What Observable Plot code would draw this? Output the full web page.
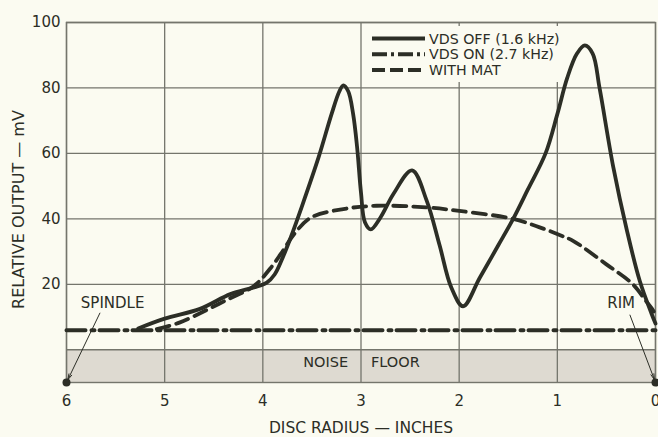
<!DOCTYPE html>
<html><head><meta charset="utf-8">
<script src="https://cdn.jsdelivr.net/npm/d3@7"></script>
<script src="https://cdn.jsdelivr.net/npm/@observablehq/plot@0.6"></script>
<style>
body{margin:0;background:#fbfbf1;}
#chart svg{display:block;}
</style></head><body><div id="chart"></div>
<script>
// ---- data (disc radius in inches, relative output in mV) ----
const vdsOffRadius = [5.27, 5.0, 4.64, 4.33, 4.1, 3.96, 3.88, 3.8, 3.72, 3.6, 3.43, 3.3, 3.22, 3.18, 3.13, 3.08, 3.04, 3.0, 2.96, 2.9, 2.8, 2.67, 2.48, 2.33, 2.2, 2.08, 1.96, 1.79, 1.6, 1.45, 1.3, 1.12, 1.0, 0.9, 0.8, 0.72, 0.64, 0.57, 0.43, 0.29, 0.16, 0.04, 0.0];
const vdsOffOutput = [6.5, 9.5, 12.5, 17, 19, 20.5, 23, 28, 34, 44, 59, 72, 79, 80.8, 79, 72, 62, 48, 39, 36.8, 40.5, 47.6, 54.8, 45.5, 32, 19, 13.3, 22, 32, 40, 49, 60, 72, 83, 90.5, 93, 90.5, 80, 55.8, 36.3, 21, 11, 8];

const vdsOnRadius = [6, 0];
const vdsOnOutput = [6, 6];

const matRadius = [5.08, 4.85, 4.57, 4.35, 4.09, 3.92, 3.79, 3.69, 3.51, 3.18, 2.84, 2.33, 2.02, 1.45, 1.18, 0.97, 0.84, 0.5, 0.23, 0.1, 0.02, 0.0];
const matOutput = [6.3, 8.3, 12.2, 15.5, 19.5, 25, 30.5, 35, 40.4, 43, 44, 43.5, 42.5, 40, 37.4, 35, 33.3, 26.1, 20, 15, 11.8, 10];

const noiseFloor = [{x1: 6, x2: 0, y1: -10, y2: 0}];
const noiseLabels = [{x: 3.36, y: -3.9, text: "NOISE"}, {x: 2.65, y: -3.9, text: "FLOOR"}];

const xTicks = [6, 5, 4, 3, 2, 1, 0];
const yTicks = [20, 40, 60, 80, 100];
const yGrid = [0, 20, 40, 60, 80, 100];

const endLabels = [{x: 5.53, y: 14.3, text: "SPINDLE"}, {x: 0.35, y: 14.3, text: "RIM"}];
const endArrows = [{x1: 5.66, y1: 11.2, x2: 6, y2: -10}, {x1: 0.26, y1: 10.6, x2: 0, y2: -10}];
const endDots = [{x: 6, y: -10}, {x: 0, y: -10}];

const legendNames = ["VDS OFF (1.6 kHz)", "VDS ON (2.7 kHz)", "WITH MAT"];
const legendDash = [null, "15,4,3,4", "13,5"];

const xLabel = "DISC RADIUS — INCHES";
const yLabel = "RELATIVE OUTPUT — mV";

// ---- styling ----
const BG = "#fbfbf1", INK = "#2c2e26", GRID = "#74756c", FILL = "#dedad1";
const FONT = "'DejaVu Sans', sans-serif";

const toPts = (xs, ys) => xs.map((x, i) => ({x, y: ys[i]}));

function legendMark(index, scales, values, dims) {
  const g = d3.create("svg:g");
  const x0 = scales.x(3) + 3.5;
  const top = dims.marginTop;
  g.append("rect").attr("x", x0).attr("y", top + 4).attr("width", 194).attr("height", 56).attr("fill", BG);
  legendNames.forEach((name, i) => {
    const y = top + 16.5 + i * 15.8;
    const ln = g.append("line")
      .attr("x1", x0 + 8).attr("x2", x0 + 61).attr("y1", y).attr("y2", y)
      .attr("stroke", INK).attr("stroke-width", 4);
    if (legendDash[i]) ln.attr("stroke-dasharray", legendDash[i]);
    g.append("text").attr("x", x0 + 65).attr("y", y).attr("dy", "0.36em")
      .attr("text-anchor", "start")
      .attr("fill", INK).attr("font-family", FONT).attr("font-size", 14.2)
      .text(name);
  });
  return g.node();
}

const chart = Plot.plot({
  width: 658,
  height: 437,
  marginLeft: 66,
  marginRight: 3,
  marginTop: 22,
  marginBottom: 55,
  style: {background: BG, fontFamily: FONT, color: INK},
  x: {domain: [6, 0], ticks: xTicks},
  y: {domain: [-10, 100], ticks: yTicks},
  marks: [
    Plot.rect(noiseFloor, {x1: "x1", x2: "x2", y1: "y1", y2: "y2", fill: FILL}),
    Plot.ruleX(xTicks, {stroke: GRID, strokeWidth: 1.3}),
    Plot.ruleY(yGrid, {stroke: GRID, strokeWidth: 1.3}),
    Plot.frame({stroke: GRID, strokeWidth: 1.4}),
    Plot.axisX({ticks: xTicks, tickSize: 0, tickPadding: 13, fontSize: 15, label: null, tickFormat: d => String(d)}),
    Plot.axisY({ticks: yTicks, tickSize: 0, tickPadding: 6, fontSize: 15, label: null}),
    Plot.text([xLabel], {frameAnchor: "bottom", lineAnchor: "middle", textAnchor: "middle", dy: 46, fontSize: 15.5, fill: INK}),
    Plot.text([yLabel], {frameAnchor: "left", lineAnchor: "middle", textAnchor: "middle", rotate: -90, dx: -48, dy: 7, fontSize: 16, fill: INK}),
    Plot.text(noiseLabels, {x: "x", y: "y", text: "text", fontSize: 14.5, fill: INK}),
    Plot.line(toPts(vdsOnRadius, vdsOnOutput), {x: "x", y: "y", stroke: INK, strokeWidth: 4, strokeDasharray: "19,6,3,5"}),
    Plot.line(toPts(matRadius, matOutput), {x: "x", y: "y", stroke: INK, strokeWidth: 3.8, strokeDasharray: "13,7", curve: "catmull-rom"}),
    Plot.line(toPts(vdsOffRadius, vdsOffOutput), {x: "x", y: "y", stroke: INK, strokeWidth: 3.8, curve: "catmull-rom", strokeLinejoin: "round"}),
    Plot.arrow(endArrows, {x1: "x1", y1: "y1", x2: "x2", y2: "y2", stroke: INK, strokeWidth: 1, headLength: 9, headAngle: 30, insetEnd: 3}),
    Plot.dot(endDots, {x: "x", y: "y", r: 4, fill: INK}),
    Plot.text(endLabels, {x: "x", y: "y", text: "text", fontSize: 15, fill: INK}),
    legendMark
  ]
});
document.getElementById("chart").append(chart);
</script>
</body></html>
